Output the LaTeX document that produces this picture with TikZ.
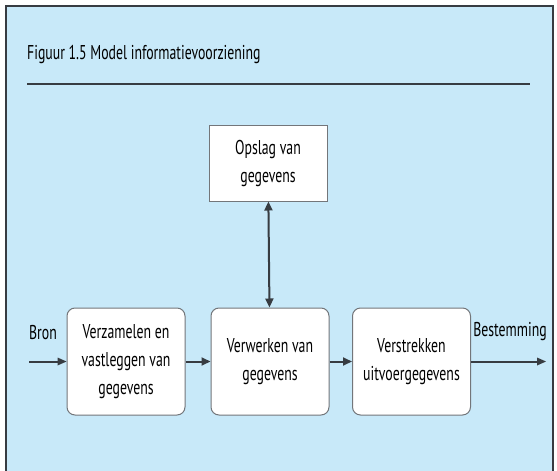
\documentclass[tikz,border=0pt]{standalone}
\usepackage{fontspec}
\setmainfont{PT Sans}[FakeStretch=0.69]
\usetikzlibrary{positioning, arrows.meta}

\definecolor{bgblue}{RGB}{200,233,249}
\definecolor{darkline}{RGB}{55,60,66}
\definecolor{boxline}{RGB}{115,118,122}

\begin{document}
\begin{tikzpicture}[x=1pt, y=1pt,
						procbox/.style={draw=boxline, line width=1pt, fill=white, rounded corners=8pt,
							minimum width=118pt, minimum height=107pt, align=center,
							font=\fontsize{20}{28}\selectfont},
						storebox/.style={procbox, rounded corners=0pt, minimum height=76pt},
						lbl/.style={font=\fontsize{20}{24}\selectfont, inner sep=0pt},
						flow/.style={-{Triangle[length=9pt,width=8pt]}, draw=darkline, line width=2pt},
						plainflow/.style={draw=darkline, line width=2pt},
						tipfill/.style={fill=darkline},
						twoway/.style={flow, {Triangle[length=9pt,width=8pt]}-{Triangle[length=9pt,width=8pt]}}]
					\useasboundingbox (0,0) rectangle (557,-471);
					\fill[bgblue] (6,-6) rectangle (553,-480);
					\draw[darkline, line width=1.5pt] (6,-480) -- (6,-6) -- (553,-6) -- (553,-480);

					\node[lbl, anchor=base west] (title) at (27,-59) {Figuur 1.5 Model informatievoorziening};
					\draw[darkline, line width=1.5pt] (27,-84) -- (530,-84);

					\node[storebox] (S) at (268,-163) {Opslag van\\gegevens};
					\node[procbox] (P1) at (126,-361.5) {Verzamelen en\\vastleggen van\\gegevens};
					\node[procbox] (P2) at (270,-361.5) {Verwerken van\\gegevens};
					\node[procbox] (P3) at (411.5,-361.5) {Verstrekken\\uitvoergegevens};

					\coordinate (src) at (29,-361.5);
					\coordinate (dst) at (546,-361.5);
					\node[lbl] (bron) at (43,-333) {Bron};
					\node[lbl] (best) at (510,-332) {Bestemming};

					% in- en uitgaande pijl
					\draw [plainflow] (src) -- ([xshift=-7pt]P1.west);
					\fill [tipfill] (P1.west) -- ++(-9,4) -- ++(0,-8) -- cycle;
					\draw [plainflow] (P3.east) -- ([xshift=-7pt]dst);
					\fill [tipfill] (dst) -- ++(-9,4) -- ++(0,-8) -- cycle;

					\draw [flow] (P1) -- (P2);
					\draw [flow] (P2) -- (P3);
					\draw [twoway] (S) -- (P2);
				\end{tikzpicture}
\end{document}
